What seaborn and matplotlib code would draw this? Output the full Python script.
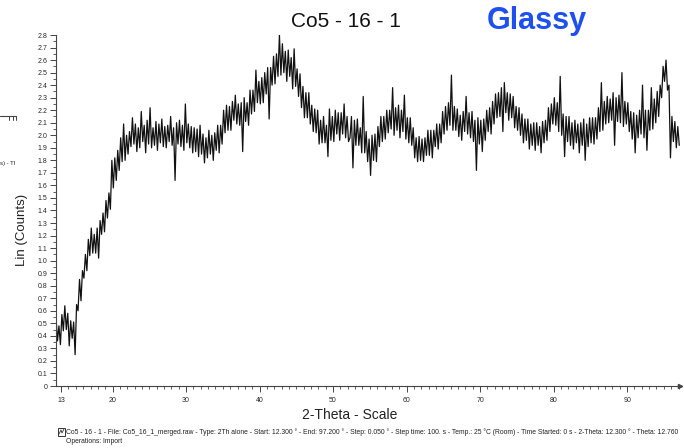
import matplotlib
matplotlib.use('Agg')
import matplotlib.pyplot as plt
from matplotlib.ticker import FixedLocator, MultipleLocator, FixedFormatter
from matplotlib.patches import Rectangle
import numpy as np
import pandas as pd
import seaborn as sns

# scan settings (2-theta, degrees)
start_angle = 12.3
step_angle = 0.2
end_angle = 97.2

# intensity, one row per 5 degrees
counts = [
    0.55, 0.36, 0.48, 0.33, 0.57, 0.44, 0.64, 0.45, 0.58, 0.32, 0.52, 0.38, 0.51, 0.25, 0.65, 0.60, 0.85, 0.68, 0.92, 0.86, 1.05, 0.92, 1.17, 1.04, 1.26,
    1.06, 1.21, 1.06, 1.26, 1.02, 1.32, 1.21, 1.38, 1.23, 1.48, 1.34, 1.54, 1.41, 1.80, 1.58, 1.82, 1.64, 1.88, 1.72, 1.98, 1.79, 2.09, 1.80, 2.00, 1.85,
    2.03, 1.91, 2.14, 1.93, 2.09, 1.87, 2.06, 1.90, 2.19, 1.95, 2.08, 1.86, 2.12, 1.93, 2.22, 1.90, 2.06, 1.92, 2.11, 1.88, 2.09, 1.94, 2.13, 1.91, 2.07,
    1.90, 2.08, 1.95, 2.15, 1.92, 2.06, 1.64, 2.10, 1.93, 2.12, 1.91, 2.08, 1.88, 2.25, 1.94, 2.09, 1.90, 2.07, 1.86, 2.06, 1.87, 2.05, 1.83, 2.08, 1.85,
    2.01, 1.78, 1.98, 1.82, 2.04, 1.85, 2.00, 1.80, 2.02, 1.88, 2.08, 1.86, 2.08, 1.93, 2.20, 2.02, 2.24, 2.04, 2.23, 2.04, 2.27, 2.12, 2.32, 2.09, 2.25,
    2.08, 2.26, 1.87, 2.30, 2.11, 2.26, 2.08, 2.36, 2.17, 2.36, 2.19, 2.52, 2.26, 2.43, 2.25, 2.46, 2.26, 2.50, 2.33, 2.54, 2.13, 2.54, 2.40, 2.63, 2.41,
    2.65, 2.47, 2.80, 2.48, 2.73, 2.50, 2.67, 2.43, 2.68, 2.47, 2.62, 2.37, 2.69, 2.39, 2.53, 2.31, 2.49, 2.22, 2.39, 2.14, 2.34, 2.14, 2.34, 2.09, 2.24,
    2.03, 2.21, 2.02, 2.20, 1.93, 2.12, 1.94, 2.15, 1.94, 2.08, 1.83, 2.21, 1.96, 2.15, 1.95, 2.20, 2.01, 2.18, 1.96, 2.18, 2.01, 2.25, 1.98, 2.15, 1.95,
    1.98, 2.15, 1.74, 2.12, 1.92, 2.13, 1.92, 2.06, 1.86, 2.31, 1.86, 2.03, 1.79, 1.97, 1.68, 2.00, 1.80, 2.01, 1.79, 2.07, 1.91, 2.15, 1.95, 2.15, 1.97,
    2.20, 2.02, 2.20, 2.05, 2.38, 2.00, 2.22, 2.04, 2.24, 1.98, 2.20, 2.03, 2.32, 1.97, 2.14, 1.94, 2.14, 1.92, 2.06, 1.82, 1.98, 1.79, 1.99, 1.80, 1.97,
    1.79, 1.98, 1.84, 2.04, 1.84, 2.04, 1.82, 2.04, 1.91, 2.09, 1.89, 2.09, 1.94, 2.19, 2.01, 2.23, 2.04, 2.26, 2.08, 2.48, 2.04, 2.23, 2.04, 2.21, 1.99,
    2.16, 1.96, 2.19, 2.03, 2.31, 2.01, 2.18, 1.98, 2.19, 1.95, 2.12, 1.72, 2.14, 1.93, 2.12, 1.87, 2.13, 1.96, 2.20, 2.03, 2.22, 2.01, 2.27, 2.09, 2.33,
    2.14, 2.34, 2.15, 2.38, 2.03, 2.42, 2.18, 2.34, 2.12, 2.33, 2.14, 2.31, 2.06, 2.23, 2.04, 2.22, 2.00, 2.17, 1.94, 2.13, 1.96, 2.13, 1.89, 2.09, 1.92,
    2.10, 1.88, 2.10, 1.92, 2.07, 1.86, 2.11, 1.94, 2.12, 1.96, 2.22, 2.03, 2.25, 2.09, 2.30, 2.08, 2.26, 2.03, 2.47, 2.00, 2.17, 1.83, 2.15, 1.95, 2.15,
    1.92, 2.10, 1.89, 2.12, 1.94, 2.09, 1.86, 2.10, 1.92, 2.13, 1.80, 2.09, 1.91, 2.14, 1.94, 2.14, 1.93, 2.14, 1.97, 2.22, 2.03, 2.42, 2.04, 2.27, 2.09,
    2.31, 2.10, 2.29, 2.12, 2.34, 1.92, 2.30, 2.11, 2.32, 2.10, 2.50, 2.07, 2.27, 2.09, 2.26, 2.03, 2.19, 1.97, 2.18, 1.86, 2.16, 1.98, 2.20, 2.01, 2.40,
    1.98, 2.20, 1.88, 2.20, 2.04, 2.38, 2.05, 2.29, 2.10, 2.35, 2.15, 2.40, 2.30, 2.55, 2.43, 2.60, 2.36, 2.40, 1.82, 2.15, 1.95, 2.11, 1.90, 2.07, 1.92,
]

x_tick_values = [13, 20, 30, 40, 50, 60, 70, 80, 90]
x_tick_labels = ['13', '20', '30', '40', '50', '60', '70', '80', '90']
y_tick_values = [round(0.1 * i, 1) for i in range(29)]
y_tick_labels = ['0'] + ['%.1f' % v for v in y_tick_values[1:]]

title = 'Co5 - 16 - 1'
note = 'Glassy'
scan_info = ('Co5 - 16 - 1 - File: Co5_16_1_merged.raw - Type: 2Th alone - Start: 12.300 \u00b0 - '
             'End: 97.200 \u00b0 - Step: 0.050 \u00b0 - Step time: 100. s - Temp.: 25 \u00b0C (Room) - '
             'Time Started: 0 s - 2-Theta: 12.300 \u00b0 - Theta: 12.760')

df = pd.DataFrame({'two_theta': start_angle + step_angle * np.arange(len(counts)),
                   'counts': counts})

sns.set_theme(style='white')
plt.rcParams['font.family'] = ['Liberation Sans', 'DejaVu Sans']

W, H = 684, 448
fig = plt.figure(figsize=(W / 100, H / 100), dpi=100)
ax = fig.add_axes([56 / W, 62 / H, 624 / W, 351 / H])

sns.lineplot(data=df, x='two_theta', y='counts', ax=ax, color='#111111', lw=0.9)

ax.set_xlim(start_angle, end_angle)
ax.set_ylim(0, 2.8)
for s in ['top', 'right']:
    ax.spines[s].set_visible(False)
for s in ['left', 'bottom']:
    ax.spines[s].set_color('#444444')
    ax.spines[s].set_linewidth(0.8)

ax.xaxis.set_major_locator(FixedLocator(x_tick_values))
ax.xaxis.set_major_formatter(FixedFormatter(x_tick_labels))
ax.xaxis.set_minor_locator(MultipleLocator(1))
ax.yaxis.set_major_locator(FixedLocator(y_tick_values))
ax.yaxis.set_major_formatter(FixedFormatter(y_tick_labels))
ax.yaxis.set_minor_locator(MultipleLocator(0.05))
ax.tick_params(axis='both', which='major', direction='out', length=4, width=0.7,
               color='#444444', labelsize=5, pad=2, bottom=True, left=True)
ax.tick_params(axis='both', which='minor', direction='out', length=2.5, width=0.6,
               color='#444444', bottom=True, left=True)
ax.tick_params(axis='x', pad=4)
ax.set_xlabel('')
ax.set_ylabel('')

# arrow at end of the x axis
ax.plot([1], [0], marker='>', ms=3, color='#444444', transform=ax.transAxes, clip_on=False)

fig.text(346 / W, 1 - 27 / H, title, ha='center', va='baseline', fontsize=15, color='#111111')
fig.text(537 / W, 1 - 29 / H, note, ha='center', va='baseline', fontsize=22,
         fontweight='bold', color='#1e50f0')
fig.text(22 / W, 1 - 230 / H, 'Lin (Counts)', rotation=90, ha='center', va='center',
         fontsize=9.5, color='#222222')
fig.text(350 / W, 1 - 415 / H, '2-Theta - Scale', ha='center', va='center',
         fontsize=10, color='#222222')
fig.text(66 / W, 1 - 432 / H, scan_info, ha='left', va='center', fontsize=4.9, color='#222222')
fig.text(66 / W, 1 - 441 / H, 'Operations: Import', ha='left', va='center', fontsize=4.9,
         color='#222222')

# little pattern icon in front of the scan info
fig.add_artist(Rectangle((58 / W, 1 - 436 / H), 7 / W, 8 / H, fill=False,
                         edgecolor='#333333', lw=0.7, transform=fig.transFigure))
fig.add_artist(plt.Line2D([59 / W, 61 / W, 62 / W, 64 / W], [1 - 434 / H, 1 - 430 / H, 1 - 433 / H, 1 - 429 / H],
                          color='#333333', lw=0.6, transform=fig.transFigure))

# clipped remnants at the left edge
fig.add_artist(plt.Line2D([0, 16 / W], [1 - 116 / H, 1 - 116 / H], color='#444444', lw=0.8,
                          transform=fig.transFigure))
for px in [9, 12.5, 16]:
    fig.add_artist(plt.Line2D([px / W, px / W], [1 - 116 / H, 1 - 120 / H], color='#444444',
                              lw=0.7, transform=fig.transFigure))
fig.text(0, 1 - 163 / H, 's) - Tl', ha='left', va='center', fontsize=4.3, color='#222222')

fig.savefig('out.png', dpi=100)
